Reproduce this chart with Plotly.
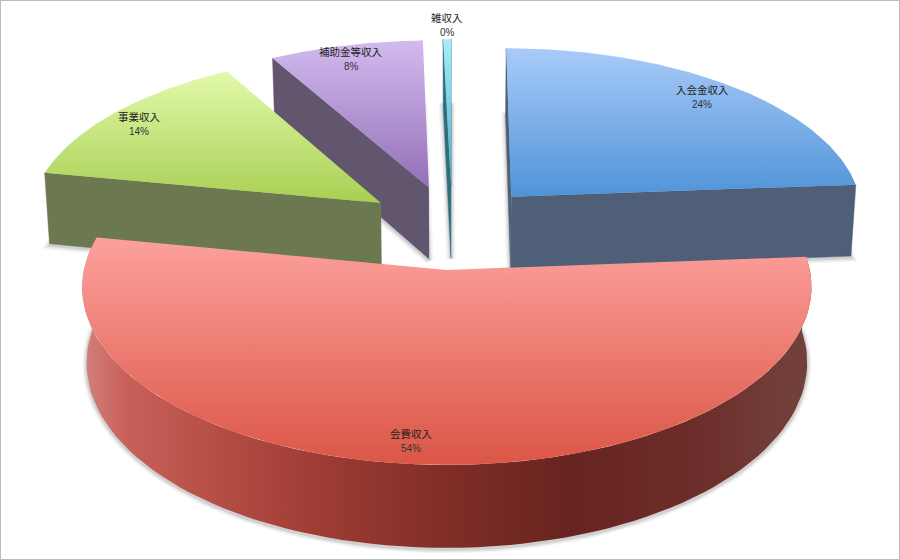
import numpy as np
import plotly.graph_objects as go

# ---- data ----
labels = ["入会金収入", "会費収入", "事業収入", "補助金等収入", "雑収入"]
values = [23.8, 54.2, 13.8, 7.8, 0.4]

# ---- styling ----
top_colors = [("#a9cbf9", "#4f94d8"), ("#fda19d", "#db5646"), ("#e2f9ab", "#a9cf52"),
              ("#d2baee", "#9370b8"), ("#a4eefb", "#3fb0c6")]
wall_colors = ["#4f5f78", None, "#6b7850", "#62566f", "#2f6f7c"]
draw_order = [3, 4, 0, 2, 1]
label_xy = {0: (702, 89), 1: (411, 433), 2: (139, 116), 3: (351, 51), 4: (447, 17)}
red_wall = [(85, "#d2807a"), (125, "#c8605a"), (200, "#b85249"), (300, "#a23f36"),
            (450, "#7f2d26"), (570, "#682420"), (700, "#6c2e2a"), (790, "#733f3b"), (810, "#6f3f3b")]

# ---- projection of the pie plane ----
X0, Y0, R, K, P = 452.0, 270.0, 363.0, 176.1, 0.0967
HEIGHT, SHRINK = 75.0, 0.988
CENTER, EXPLODE = (0.0, -0.25), 0.25


def proj(u, v, bottom=False):
    w = 1 - P * v
    x = X0 + R * u / w
    y = Y0 + K * v / w
    if bottom:
        x = X0 + (x - X0) * SHRINK
        y = y + HEIGHT / w
    return x, y


def grad(lo, hi, stops, kind):
    scale = [[(s - stops[0][0]) / (stops[-1][0] - stops[0][0]), c] for s, c in stops]
    return dict(type=kind, start=lo, stop=hi, colorscale=scale)


def poly(xs, ys, **kw):
    return go.Scatter(x=xs, y=ys, mode="lines", fill="toself", hoverinfo="skip",
                      showlegend=False, **kw)


total = sum(values)
edges = np.concatenate([[0], np.cumsum(values)]) / total * 2 * np.pi
fig = go.Figure()

geo = {}
for i in range(len(values)):
    a0, a1 = edges[i], edges[i + 1]
    mid = (a0 + a1) / 2
    ox = CENTER[0] + EXPLODE * np.sin(mid)
    oy = CENTER[1] - EXPLODE * np.cos(mid)
    t = np.linspace(a0, a1, 90)
    geo[i] = (ox + np.sin(t), oy - np.cos(t), ox, oy)

# soft shadows: the blurred under-face of every slice
for i in draw_order:
    u, v, ox, oy = geo[i]
    uu = np.concatenate([[ox], u, [ox]])
    vv = np.concatenate([[oy], v, [oy]])
    bx, by = proj(uu, vv, bottom=True)
    for width, alpha in [(9, 0.05), (6, 0.08), (3, 0.14)]:
        fig.add_trace(go.Scatter(x=bx, y=by + 1.5, mode="lines", hoverinfo="skip", showlegend=False,
                                 line=dict(width=width, color=f"rgba(70,70,70,{alpha})")))

for i in draw_order:
    u, v, ox, oy = geo[i]
    # walls
    if i == 1:
        tx, ty = proj(u, v)
        bx, by = proj(u, v, bottom=True)
        fig.add_trace(poly(np.concatenate([tx, bx[::-1]]), np.concatenate([ty, by[::-1]]),
                           line=dict(width=0),
                           fillgradient=grad(red_wall[0][0], red_wall[-1][0], red_wall, "horizontal")))
    else:
        # each straight cut face visible from the front
        ends = [(u[-1], v[-1])] if i == 0 else [(u[0], v[0])]
        if i == 0:
            ends.append((u[0], v[0]))
        if i == 4:
            ends = [(u[0], v[0]), (u[-1], v[-1])]
        for eu, ev in ends:
            su = np.array([ox, eu])
            sv = np.array([oy, ev])
            tx, ty = proj(su, sv)
            bx, by = proj(su, sv, bottom=True)
            fig.add_trace(poly(np.concatenate([tx, bx[::-1]]), np.concatenate([ty, by[::-1]]),
                               line=dict(width=0.5, color=wall_colors[i]), fillcolor=wall_colors[i]))
    # top face
    uu = np.concatenate([[ox], u, [ox]])
    vv = np.concatenate([[oy], v, [oy]])
    tx, ty = proj(uu, vv)
    c0, c1 = top_colors[i]
    fig.add_trace(poly(tx, ty, line=dict(width=0),
                       fillgradient=dict(type="vertical", start=float(ty.min()), stop=float(ty.max()),
                                         colorscale=[[0, c0], [1, c1]])))

for i, name in enumerate(labels):
    lx, ly = label_xy[i]
    fig.add_annotation(x=lx, y=ly, xref="x", yref="y", showarrow=False,
                       text=name, font=dict(family="Noto Sans CJK JP", size=10.5, color="#1f1f1f"))
    fig.add_annotation(x=lx, y=ly + 15, xref="x", yref="y", showarrow=False,
                       text=f"{values[i] / total * 100:.0f}%",
                       font=dict(family="Liberation Sans", size=10, color="#333333"))

fig.add_shape(type="rect", xref="paper", yref="paper", x0=0, y0=0, x1=1, y1=1,
              line=dict(color="#bdbdbd", width=2))
fig.update_layout(width=900, height=560, margin=dict(l=0, r=0, t=0, b=0),
                  paper_bgcolor="white", plot_bgcolor="white", showlegend=False,
                  xaxis=dict(visible=False, range=[0, 900], fixedrange=True),
                  yaxis=dict(visible=False, range=[560, 0], fixedrange=True))
fig.write_html("out.html", config={"displayModeBar": False},
               post_script="document.body.style.margin='0';document.body.style.overflow='hidden';")
